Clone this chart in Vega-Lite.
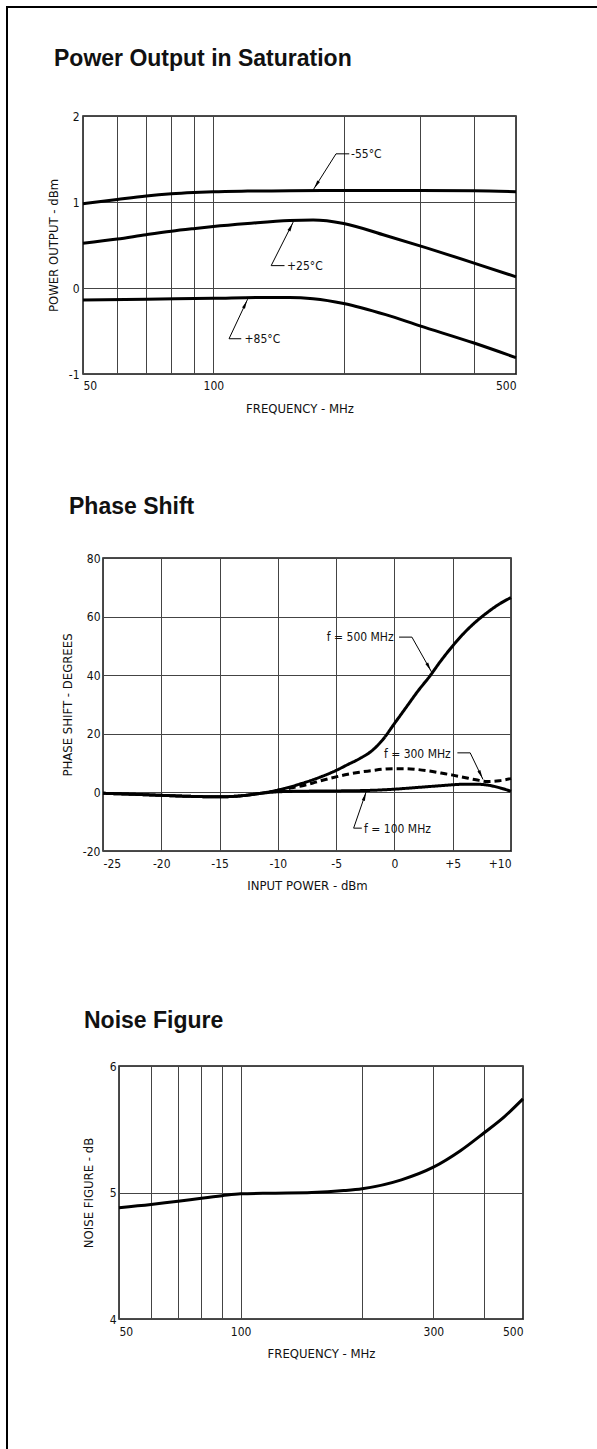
{
  "$schema": "https://vega.github.io/schema/vega-lite/v6.json",
  "padding": {"left": 6, "top": 1, "right": 0, "bottom": 0},
  "background": "white",
  "config": {
    "font": "Liberation Sans",
    "view": {"stroke": "#111", "strokeWidth": 1.5},
    "concat": {"spacing": 0},
    "axis": {
      "labelFont": "DejaVu Sans Condensed, Liberation Sans Narrow, sans-serif",
      "labelFontSize": 12,
      "labelColor": "#111",
      "titleFont": "DejaVu Sans Condensed, Liberation Sans Narrow, sans-serif",
      "titleFontSize": 13,
      "titleFontWeight": "normal",
      "titleColor": "#111",
      "gridColor": "#444",
      "gridWidth": 1,
      "gridOpacity": 1,
      "ticks": false,
      "domain": false
    },
    "title": {"font": "Liberation Sans", "fontSize": 23, "fontWeight": "bold", "color": "#111", "anchor": "start", "frame": "group"},
    "text": {"font": "DejaVu Sans Condensed, Liberation Sans Narrow, sans-serif", "fontSize": 12, "color": "#111"},
    "point": {"shape": "M0,-1L0.38,1L-0.38,1Z", "filled": true, "color": "black", "size": 70, "opacity": 1}
  },
  "datasets": {
    "power_curves": [
      {"temp": "-55°C", "freq": 50, "power": 0.98}, {"temp": "-55°C", "freq": 60, "power": 1.03}, {"temp": "-55°C", "freq": 70, "power": 1.07},
      {"temp": "-55°C", "freq": 80, "power": 1.095}, {"temp": "-55°C", "freq": 90, "power": 1.11}, {"temp": "-55°C", "freq": 100, "power": 1.12},
      {"temp": "-55°C", "freq": 120, "power": 1.127}, {"temp": "-55°C", "freq": 150, "power": 1.13}, {"temp": "-55°C", "freq": 200, "power": 1.133},
      {"temp": "-55°C", "freq": 300, "power": 1.133}, {"temp": "-55°C", "freq": 400, "power": 1.13}, {"temp": "-55°C", "freq": 500, "power": 1.12},
      {"temp": "+25°C", "freq": 50, "power": 0.52}, {"temp": "+25°C", "freq": 60, "power": 0.57}, {"temp": "+25°C", "freq": 70, "power": 0.62},
      {"temp": "+25°C", "freq": 80, "power": 0.66}, {"temp": "+25°C", "freq": 90, "power": 0.69}, {"temp": "+25°C", "freq": 100, "power": 0.715},
      {"temp": "+25°C", "freq": 120, "power": 0.75}, {"temp": "+25°C", "freq": 150, "power": 0.785}, {"temp": "+25°C", "freq": 170, "power": 0.79},
      {"temp": "+25°C", "freq": 200, "power": 0.75}, {"temp": "+25°C", "freq": 250, "power": 0.61}, {"temp": "+25°C", "freq": 300, "power": 0.49},
      {"temp": "+25°C", "freq": 400, "power": 0.29}, {"temp": "+25°C", "freq": 500, "power": 0.13},
      {"temp": "+85°C", "freq": 50, "power": -0.14}, {"temp": "+85°C", "freq": 70, "power": -0.13}, {"temp": "+85°C", "freq": 100, "power": -0.12},
      {"temp": "+85°C", "freq": 130, "power": -0.11}, {"temp": "+85°C", "freq": 150, "power": -0.11}, {"temp": "+85°C", "freq": 170, "power": -0.125},
      {"temp": "+85°C", "freq": 200, "power": -0.18}, {"temp": "+85°C", "freq": 250, "power": -0.31}, {"temp": "+85°C", "freq": 300, "power": -0.44},
      {"temp": "+85°C", "freq": 400, "power": -0.64}, {"temp": "+85°C", "freq": 500, "power": -0.81}
    ],
    "power_leaders": [
      {"lead": "a", "pt": 1, "freq": 170, "power": 1.14}, {"lead": "a", "pt": 2, "freq": 192, "power": 1.56}, {"lead": "a", "pt": 3, "freq": 206, "power": 1.56},
      {"lead": "b", "pt": 1, "freq": 153, "power": 0.77}, {"lead": "b", "pt": 2, "freq": 136, "power": 0.26}, {"lead": "b", "pt": 3, "freq": 146, "power": 0.26},
      {"lead": "c", "pt": 1, "freq": 120, "power": -0.13}, {"lead": "c", "pt": 2, "freq": 108.7, "power": -0.59}, {"lead": "c", "pt": 3, "freq": 116, "power": -0.59}
    ],
    "power_arrows": [
      {"lead": "a", "freq": 173, "power": 1.2},
      {"lead": "b", "freq": 151, "power": 0.71},
      {"lead": "c", "freq": 118.5, "power": -0.19}
    ],
    "power_labels": [
      {"label": "-55°C", "freq": 208, "power": 1.56},
      {"label": "+25°C", "freq": 148, "power": 0.26},
      {"label": "+85°C", "freq": 118, "power": -0.59}
    ],
    "phase_curves": [
      {"f": "500 MHz", "input": -25, "phase": -0.3}, {"f": "500 MHz", "input": -22, "phase": -0.7}, {"f": "500 MHz", "input": -20, "phase": -1.0},
      {"f": "500 MHz", "input": -17, "phase": -1.4}, {"f": "500 MHz", "input": -15, "phase": -1.5}, {"f": "500 MHz", "input": -13, "phase": -1.1},
      {"f": "500 MHz", "input": -12, "phase": -0.6}, {"f": "500 MHz", "input": -11, "phase": 0.0}, {"f": "500 MHz", "input": -10, "phase": 0.8},
      {"f": "500 MHz", "input": -9, "phase": 1.8}, {"f": "500 MHz", "input": -8, "phase": 3.0}, {"f": "500 MHz", "input": -7, "phase": 4.3},
      {"f": "500 MHz", "input": -6, "phase": 5.8}, {"f": "500 MHz", "input": -5, "phase": 7.5}, {"f": "500 MHz", "input": -4, "phase": 9.5},
      {"f": "500 MHz", "input": -3, "phase": 11.5}, {"f": "500 MHz", "input": -2, "phase": 14.0}, {"f": "500 MHz", "input": -1, "phase": 18.0},
      {"f": "500 MHz", "input": 0, "phase": 23.5}, {"f": "500 MHz", "input": 1, "phase": 29.0}, {"f": "500 MHz", "input": 2, "phase": 34.5},
      {"f": "500 MHz", "input": 3, "phase": 39.5}, {"f": "500 MHz", "input": 4, "phase": 45.0}, {"f": "500 MHz", "input": 5, "phase": 50.0},
      {"f": "500 MHz", "input": 6, "phase": 54.5}, {"f": "500 MHz", "input": 7, "phase": 58.3}, {"f": "500 MHz", "input": 8, "phase": 61.5},
      {"f": "500 MHz", "input": 9, "phase": 64.3}, {"f": "500 MHz", "input": 10, "phase": 66.5},
      {"f": "300 MHz", "input": -10, "phase": 0.7}, {"f": "300 MHz", "input": -9, "phase": 1.4}, {"f": "300 MHz", "input": -8, "phase": 2.2},
      {"f": "300 MHz", "input": -7, "phase": 3.2}, {"f": "300 MHz", "input": -6, "phase": 4.3}, {"f": "300 MHz", "input": -5, "phase": 5.3},
      {"f": "300 MHz", "input": -4, "phase": 6.2}, {"f": "300 MHz", "input": -3, "phase": 6.9}, {"f": "300 MHz", "input": -2, "phase": 7.4},
      {"f": "300 MHz", "input": -1, "phase": 7.9}, {"f": "300 MHz", "input": 0, "phase": 8.1}, {"f": "300 MHz", "input": 1, "phase": 8.1},
      {"f": "300 MHz", "input": 2, "phase": 7.8}, {"f": "300 MHz", "input": 3, "phase": 7.3}, {"f": "300 MHz", "input": 4, "phase": 6.6},
      {"f": "300 MHz", "input": 5, "phase": 5.9}, {"f": "300 MHz", "input": 6, "phase": 5.1}, {"f": "300 MHz", "input": 7, "phase": 4.3},
      {"f": "300 MHz", "input": 8, "phase": 3.7}, {"f": "300 MHz", "input": 9, "phase": 4.0}, {"f": "300 MHz", "input": 10, "phase": 4.7},
      {"f": "100 MHz", "input": -25, "phase": -0.3}, {"f": "100 MHz", "input": -22, "phase": -0.7}, {"f": "100 MHz", "input": -20, "phase": -1.0},
      {"f": "100 MHz", "input": -17, "phase": -1.4}, {"f": "100 MHz", "input": -15, "phase": -1.5}, {"f": "100 MHz", "input": -13, "phase": -1.1},
      {"f": "100 MHz", "input": -12, "phase": -0.6}, {"f": "100 MHz", "input": -11, "phase": -0.1}, {"f": "100 MHz", "input": -10, "phase": 0.2},
      {"f": "100 MHz", "input": -8, "phase": 0.4}, {"f": "100 MHz", "input": -5, "phase": 0.5}, {"f": "100 MHz", "input": -2, "phase": 0.7},
      {"f": "100 MHz", "input": 0, "phase": 1.1}, {"f": "100 MHz", "input": 2, "phase": 1.7}, {"f": "100 MHz", "input": 4, "phase": 2.3},
      {"f": "100 MHz", "input": 5, "phase": 2.6}, {"f": "100 MHz", "input": 6, "phase": 2.8}, {"f": "100 MHz", "input": 7, "phase": 2.8},
      {"f": "100 MHz", "input": 8, "phase": 2.5}, {"f": "100 MHz", "input": 9, "phase": 1.6}, {"f": "100 MHz", "input": 10, "phase": 0.4}
    ],
    "phase_leaders": [
      {"lead": "a", "pt": 1, "input": 3.2, "phase": 41}, {"lead": "a", "pt": 2, "input": 1.5, "phase": 53}, {"lead": "a", "pt": 3, "input": 0.4, "phase": 53},
      {"lead": "b", "pt": 1, "input": 7.6, "phase": 4.4}, {"lead": "b", "pt": 2, "input": 6.5, "phase": 13.5}, {"lead": "b", "pt": 3, "input": 5.4, "phase": 13.5},
      {"lead": "c", "pt": 1, "input": -2.4, "phase": 0.5}, {"lead": "c", "pt": 2, "input": -3.5, "phase": -12.2}, {"lead": "c", "pt": 3, "input": -2.8, "phase": -12.2}
    ],
    "phase_arrows": [
      {"lead": "a", "input": 2.95, "phase": 42.8},
      {"lead": "b", "input": 7.4, "phase": 6.1},
      {"lead": "c", "input": -2.55, "phase": -1.4}
    ],
    "phase_labels": [
      {"label": "f = 500 MHz", "input": -5.8, "phase": 53},
      {"label": "f = 300 MHz", "input": -0.9, "phase": 13},
      {"label": "f = 100 MHz", "input": -2.6, "phase": -12.4}
    ],
    "noise_curve": [
      {"freq": 50, "nf": 4.88}, {"freq": 60, "nf": 4.905}, {"freq": 70, "nf": 4.93}, {"freq": 80, "nf": 4.955},
      {"freq": 90, "nf": 4.975}, {"freq": 100, "nf": 4.99}, {"freq": 120, "nf": 4.995}, {"freq": 150, "nf": 5.0},
      {"freq": 180, "nf": 5.015}, {"freq": 200, "nf": 5.03}, {"freq": 250, "nf": 5.1}, {"freq": 300, "nf": 5.2},
      {"freq": 350, "nf": 5.33}, {"freq": 400, "nf": 5.47}, {"freq": 450, "nf": 5.6}, {"freq": 500, "nf": 5.74}
    ]
  },
  "hconcat": [
    {"width": 2, "height": 1448, "data": {"values": [{}]}, "mark": "text", "encoding": {"text": {"value": ""}}, "view": {"fill": "black", "stroke": null}},
    {
      "vconcat": [
        {"width": 589, "height": 2, "data": {"values": [{}]}, "mark": "text", "encoding": {"text": {"value": ""}}, "view": {"fill": "black", "stroke": null}},
        {"width": 1, "height": 34, "data": {"values": [{}]}, "mark": "text", "encoding": {"text": {"value": ""}}, "view": {"stroke": null}},
        {
          "hconcat": [
            {"width": 38, "height": 1, "data": {"values": [{}]}, "mark": "text", "encoding": {"text": {"value": ""}}, "view": {"stroke": null}},
            {
              "width": 433, "height": 258,
              "title": {"text": "Power Output in Saturation", "dx": -29, "offset": 39},
              "encoding": {
                "x": {"field": "freq", "type": "quantitative",
                  "scale": {"type": "log", "domain": [50, 500], "nice": false},
                  "axis": {"values": [50, 60, 70, 80, 90, 100, 200, 300, 400, 500], "format": "d",
                    "labelExpr": "datum.value == 50 || datum.value == 100 || datum.value == 500 ? datum.label : ''",
                    "labelFlush": true, "title": "FREQUENCY - MHz", "labelPadding": 6, "titlePadding": 11}},
                "y": {"field": "power", "type": "quantitative",
                  "scale": {"domain": [-1, 2], "nice": false},
                  "axis": {"values": [-1, 0, 1, 2], "format": "d", "labelExpr": "replace(datum.label, '\u2212', '-')",
                    "title": "POWER OUTPUT - dBm", "labelPadding": 4, "titlePadding": 8}}
              },
              "layer": [
                {"data": {"name": "power_curves"}, "mark": {"type": "line", "color": "black", "strokeWidth": 3, "interpolate": "monotone"}, "encoding": {"detail": {"field": "temp"}}},
                {"data": {"name": "power_leaders"}, "mark": {"type": "line", "color": "black", "strokeWidth": 1}, "encoding": {"detail": {"field": "lead"}, "order": {"field": "pt"}}},
                {"data": {"name": "power_arrows"}, "transform": [{"filter": "datum.lead == 'a'"}], "mark": {"type": "point", "angle": 212}},
                {"data": {"name": "power_arrows"}, "transform": [{"filter": "datum.lead == 'b'"}], "mark": {"type": "point", "angle": 27}},
                {"data": {"name": "power_arrows"}, "transform": [{"filter": "datum.lead == 'c'"}], "mark": {"type": "point", "angle": 25}},
                {"data": {"name": "power_labels"}, "mark": {"type": "text", "align": "left", "baseline": "middle"}, "encoding": {"text": {"field": "label"}}}
              ]
            }
          ]
        },
        {"width": 1, "height": 79, "data": {"values": [{}]}, "mark": "text", "encoding": {"text": {"value": ""}}, "view": {"stroke": null}},
        {
          "hconcat": [
            {"width": 52, "height": 1, "data": {"values": [{}]}, "mark": "text", "encoding": {"text": {"value": ""}}, "view": {"stroke": null}},
            {
              "width": 408, "height": 293,
              "title": {"text": "Phase Shift", "dx": -34, "offset": 33},
              "encoding": {
                "x": {"field": "input", "type": "quantitative",
                  "scale": {"domain": [-25, 10], "nice": false},
                  "axis": {"values": [-25, -20, -15, -10, -5, 0, 5, 10],
                    "labelExpr": "datum.value > 0 ? '+' + datum.label : replace(datum.label, '\u2212', '-')",
                    "title": "INPUT POWER - dBm", "labelPadding": 7, "titlePadding": 10}},
                "y": {"field": "phase", "type": "quantitative",
                  "scale": {"domain": [-20, 80], "nice": false},
                  "axis": {"values": [-20, 0, 20, 40, 60, 80], "labelExpr": "replace(datum.label, '\u2212', '-')",
                    "title": "PHASE SHIFT - DEGREES", "labelPadding": 3, "titlePadding": 8}}
              },
              "layer": [
                {"data": {"name": "phase_curves"}, "mark": {"type": "line", "color": "black", "strokeWidth": 3, "interpolate": "monotone"},
                  "encoding": {"detail": {"field": "f"},
                    "strokeDash": {"field": "f", "type": "nominal", "scale": {"domain": ["100 MHz", "300 MHz", "500 MHz"], "range": [[1, 0], [7, 4], [1, 0]]}, "legend": null}}},
                {"data": {"name": "phase_leaders"}, "mark": {"type": "line", "color": "black", "strokeWidth": 1}, "encoding": {"detail": {"field": "lead"}, "order": {"field": "pt"}}},
                {"data": {"name": "phase_arrows"}, "transform": [{"filter": "datum.lead == 'a'"}], "mark": {"type": "point", "angle": 151}},
                {"data": {"name": "phase_arrows"}, "transform": [{"filter": "datum.lead == 'b'"}], "mark": {"type": "point", "angle": 154}},
                {"data": {"name": "phase_arrows"}, "transform": [{"filter": "datum.lead == 'c'"}], "mark": {"type": "point", "angle": 19}},
                {"data": {"name": "phase_labels"}, "mark": {"type": "text", "align": "left", "baseline": "middle"}, "encoding": {"text": {"field": "label"}}}
              ]
            }
          ]
        },
        {"width": 1, "height": 116, "data": {"values": [{}]}, "mark": "text", "encoding": {"text": {"value": ""}}, "view": {"stroke": null}},
        {
          "hconcat": [
            {"width": 73, "height": 1, "data": {"values": [{}]}, "mark": "text", "encoding": {"text": {"value": ""}}, "view": {"stroke": null}},
            {
              "width": 404, "height": 253,
              "title": {"text": "Noise Figure", "dx": -35, "offset": 27},
              "encoding": {
                "x": {"field": "freq", "type": "quantitative",
                  "scale": {"type": "log", "domain": [50, 500], "nice": false},
                  "axis": {"values": [50, 60, 70, 80, 90, 100, 200, 300, 400, 500], "format": "d",
                    "labelExpr": "datum.value == 50 || datum.value == 100 || datum.value == 300 || datum.value == 500 ? datum.label : ''",
                    "labelFlush": true, "title": "FREQUENCY - MHz", "labelPadding": 7, "titlePadding": 10}},
                "y": {"field": "nf", "type": "quantitative",
                  "scale": {"domain": [4, 6], "nice": false},
                  "axis": {"values": [4, 5, 6], "labelExpr": "format(datum.value, 'd')", "title": "NOISE FIGURE - dB", "labelPadding": 3, "titlePadding": 14}}
              },
              "layer": [
                {"data": {"name": "noise_curve"}, "mark": {"type": "line", "color": "black", "strokeWidth": 3, "interpolate": "monotone"}}
              ]
            }
          ]
        }
      ]
    }
  ]
}
